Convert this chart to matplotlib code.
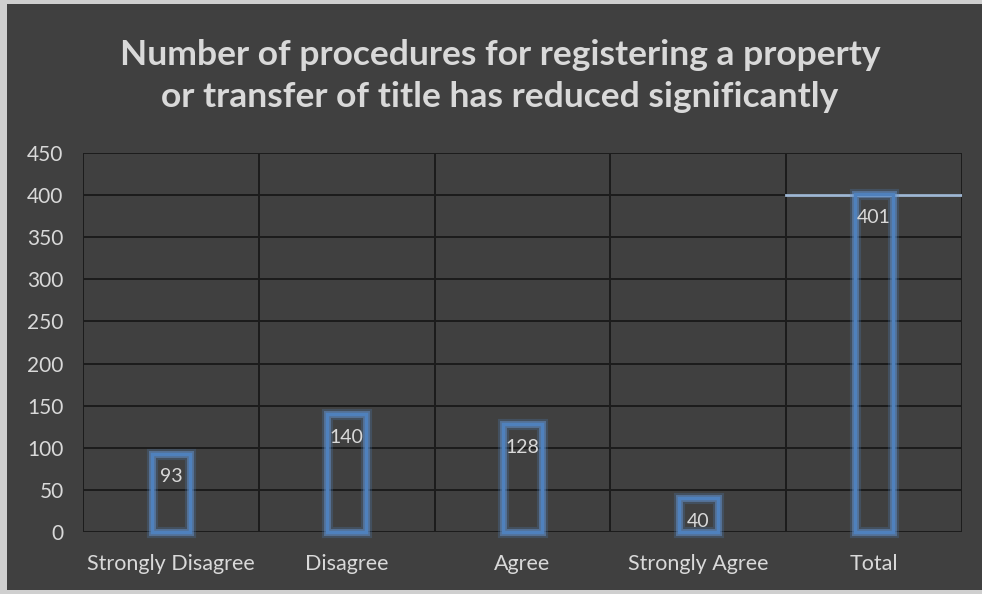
import matplotlib.pyplot as plt
import matplotlib.patheffects as pe
from matplotlib.patches import Rectangle

categories = ["Strongly Disagree", "Disagree", "Agree", "Strongly Agree", "Total"]
counts = [93, 140, 128, 40, 401]
y_ticks = [0, 50, 100, 150, 200, 250, 300, 350, 400, 450]
title = ("Number of procedures for registering a property\n"
         "or transfer of title has reduced significantly")

BG = "#404040"
TEXT = "#d9d9d9"
BLUE = "#4f81bd"
GRID = "#1c1c1c"

plt.rcParams["font.family"] = ["Lato", "DejaVu Sans"]

fig = plt.figure(figsize=(9.82, 5.94), dpi=100)
fig.patch.set_facecolor("#cfcfcf")
# dark chart panel inside the thin light frame
fig.patches.append(Rectangle((7 / 982, 4 / 594), 1 - 7 / 982, 1 - 8 / 594,
                             transform=fig.transFigure, facecolor=BG,
                             edgecolor="none", zorder=-10))

ax = fig.add_axes([83 / 982, 62 / 594, (962 - 83) / 982, (532 - 153) / 594])
ax.set_facecolor(BG)

x = list(range(len(categories)))
ax.set_xlim(-0.5, len(categories) - 0.5)
ax.set_ylim(0, 450)

# grid: horizontal every 50, vertical at category boundaries
for y in y_ticks:
    ax.axhline(y, color=GRID, lw=1.4, zorder=1)
for b in range(len(categories) + 1):
    ax.axvline(b - 0.5, color=GRID, lw=1.4, zorder=1)

glow = [pe.Stroke(linewidth=8, foreground=BLUE, alpha=0.25),
        pe.Stroke(linewidth=5, foreground="#6a9bd8", alpha=0.45),
        pe.Normal()]
bars = ax.bar(x, counts, width=0.22, facecolor="none", edgecolor=BLUE,
              linewidth=2.5, zorder=3, clip_on=False)
for bar in bars:
    bar.set_path_effects(glow)

# light line marking the total level across its column
ax.plot([3.5, 4.5], [400, 400], color="#9fb7d4", lw=2, zorder=2)

for xi, v in zip(x, counts):
    ax.annotate(str(v), (xi, v), xytext=(0, -23), textcoords="offset pixels",
                ha="center", va="center", color=TEXT, fontsize=14, zorder=4)

ax.set_xticks(x)
ax.set_xticklabels(categories, fontsize=15.5, color=TEXT)
ax.set_yticks(y_ticks)
ax.set_yticklabels([str(t) for t in y_ticks], fontsize=15, color=TEXT)
ax.tick_params(length=0)
ax.tick_params(axis="y", pad=14)
ax.tick_params(axis="x", pad=16)
for s in ax.spines.values():
    s.set_visible(False)

fig.text(500 / 982, 1 - 76 / 594, title, ha="center", va="center", color=TEXT,
         fontsize=25.5, fontweight="bold", linespacing=1.35)

fig.savefig("out.png", dpi=100, facecolor=fig.get_facecolor())
